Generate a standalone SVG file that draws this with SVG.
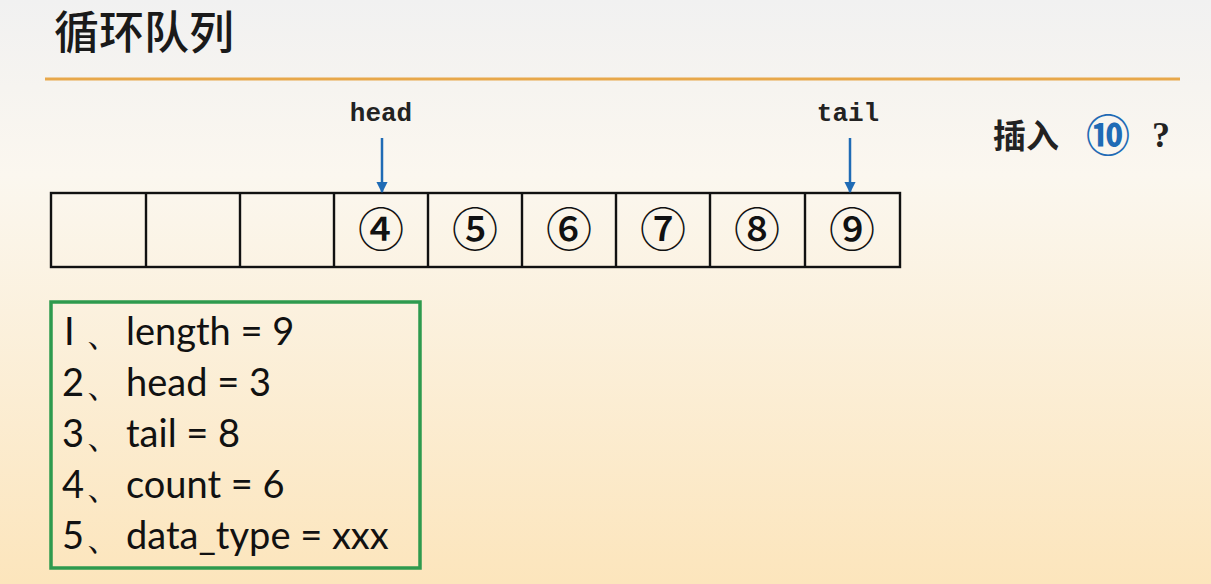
<svg xmlns="http://www.w3.org/2000/svg" width="1211" height="584" viewBox="0 0 1211 584">
<defs>
<linearGradient id="bg" x1="0" y1="0" x2="0" y2="1">
<stop offset="0" stop-color="#f1f1f1"/>
<stop offset="0.3" stop-color="#fbf7ef"/>
<stop offset="1" stop-color="#fce5bc"/>
</linearGradient>
<marker id="ah" viewBox="0 0 10 10" refX="9" refY="5" markerWidth="4.5" markerHeight="4.5" orient="auto" markerUnits="strokeWidth">
<path d="M0,0 L10,5 L0,10 z" fill="#1f6bb5"/>
</marker>
<style>
.cell{fill:none;stroke:#111;stroke-width:2.4}
.num{font-family:"Noto Sans CJK SC","DejaVu Sans",sans-serif;font-size:46px;font-weight:500;fill:#111;text-anchor:middle}
.lbl{font-family:"Liberation Mono",monospace;font-weight:bold;font-size:26px;fill:#222;text-anchor:middle}
.ptr{stroke:#1f6bb5;stroke-width:2.5;marker-end:url(#ah)}
.info{font-family:Lato,"Open Sans",sans-serif;font-size:38px;fill:#111}
</style>
</defs>
<rect width="1211" height="584" fill="url(#bg)"/>
<g id="title">
<text x="54" y="49" font-family="Noto Sans CJK SC,sans-serif" font-size="45" font-weight="500" fill="#1a1a1a">循环队列</text>
<line x1="45" y1="79" x2="1180" y2="79" stroke="#e8a84a" stroke-width="3"/>
</g>
<g id="array">
<rect x="51" y="193" width="849" height="74" class="cell"/>
<line x1="146" y1="193" x2="146" y2="267" class="cell"/>
<line x1="240" y1="193" x2="240" y2="267" class="cell"/>
<line x1="334" y1="193" x2="334" y2="267" class="cell"/>
<line x1="428" y1="193" x2="428" y2="267" class="cell"/>
<line x1="522" y1="193" x2="522" y2="267" class="cell"/>
<line x1="616" y1="193" x2="616" y2="267" class="cell"/>
<line x1="710" y1="193" x2="710" y2="267" class="cell"/>
<line x1="805" y1="193" x2="805" y2="267" class="cell"/>
<text x="381" y="246" class="num">④</text>
<text x="475" y="246" class="num">⑤</text>
<text x="569" y="246" class="num">⑥</text>
<text x="663" y="246" class="num">⑦</text>
<text x="757" y="246" class="num">⑧</text>
<text x="852" y="246" class="num">⑨</text>
</g>
<g id="head">
<text x="381" y="121" class="lbl">head</text>
</g>
<g id="tail">
<text x="848" y="121" class="lbl">tail</text>
</g>
<g id="connectors">
<line x1="382" y1="138" x2="382" y2="192" class="ptr"/>
<line x1="850" y1="138" x2="850" y2="192" class="ptr"/>
</g>
<g id="insert">
<text x="993" y="148" font-family="Noto Sans CJK SC,sans-serif" font-weight="bold" font-size="33" fill="#222">插入</text>
<text x="1108" y="152" font-family="Noto Sans CJK SC,DejaVu Sans,sans-serif" font-weight="bold" font-size="44" fill="#1f6bb5" text-anchor="middle">⑩</text>
<text x="1161" y="147" font-family="Liberation Serif,serif" font-weight="bold" font-size="36" fill="#222" text-anchor="middle">?</text>
</g>
<g id="info">
<rect x="51" y="302" width="369" height="266" fill="none" stroke="#2e9a4e" stroke-width="3.5"/>
<text y="345" class="info"><tspan x="64">I</tspan><tspan x="85">、</tspan><tspan x="126">length = 9</tspan></text>
<text y="396" class="info"><tspan x="62">2</tspan><tspan x="85">、</tspan><tspan x="126">head = 3</tspan></text>
<text y="447" class="info"><tspan x="62">3</tspan><tspan x="85">、</tspan><tspan x="126">tail = 8</tspan></text>
<text y="498" class="info"><tspan x="62">4</tspan><tspan x="85">、</tspan><tspan x="126">count = 6</tspan></text>
<text y="549" class="info"><tspan x="62">5</tspan><tspan x="85">、</tspan><tspan x="126">data_type = xxx</tspan></text>
</g>
</svg>
